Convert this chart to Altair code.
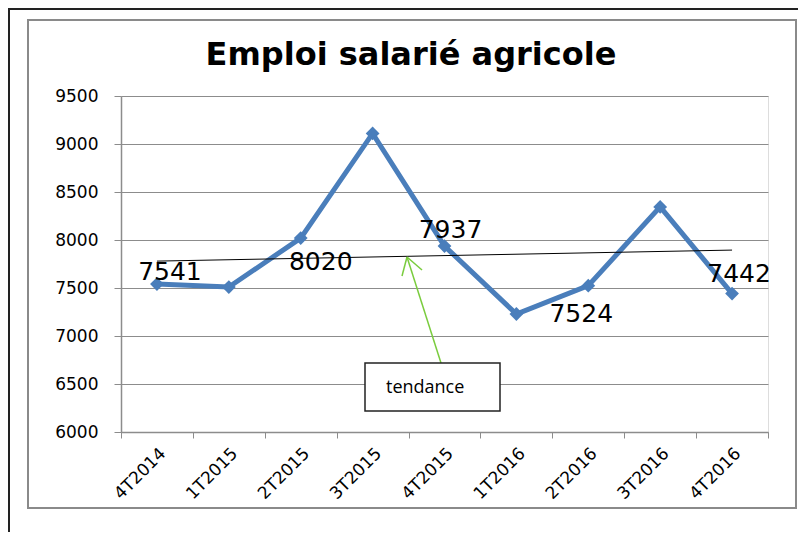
import altair as alt
import pandas as pd

# ---- data ----
categories = ["4T2014", "1T2015", "2T2015", "3T2015", "4T2015",
              "1T2016", "2T2016", "3T2016", "4T2016"]
values = [7541, 7510, 8020, 9110, 7937, 7229, 7524, 8345, 7442]
trend_categories = ["4T2014", "4T2016"]
trend_values = [7780, 7895]
labelled_categories = ["4T2014", "2T2015", "4T2015", "2T2016", "4T2016"]
y_ticks = [6000, 6500, 7000, 7500, 8000, 8500, 9000, 9500]
chart_title = "Emploi salarié agricole"
note_text = "tendance"

df = pd.DataFrame({"cat": categories, "value": values})
df_trend = pd.DataFrame({"cat": trend_categories, "value": trend_values})
one = pd.DataFrame({"k": [0]})

W, H = 647, 336
BLUE = "#4a7ebb"
GRID = "#8c8c8c"
GREEN = "#7acc3e"

x_enc = alt.X(
    "cat:N", sort=categories,
    scale=alt.Scale(domain=categories, paddingInner=0, paddingOuter=0),
    axis=alt.Axis(title=None, labelAngle=-45, labelFont="DejaVu Sans",
                  labelFontSize=17, labelColor="black", tickBand="extent",
                  tickSize=6, tickColor=GRID, domainColor=GRID,
                  domainWidth=1.5, labelPadding=7, grid=False),
)
y_enc = alt.Y(
    "value:Q",
    scale=alt.Scale(domain=[6000, 9500], nice=False, zero=False),
    axis=alt.Axis(title=None, values=y_ticks, format="d", grid=True,
                  gridColor=GRID, gridWidth=1.2, labelFont="DejaVu Sans",
                  labelFontSize=17, labelColor="black", tickSize=7,
                  tickColor=GRID, domainColor=GRID, domainWidth=1.5,
                  labelPadding=16),
)

# frames (chart border and plot frame)
outer = alt.Chart(one).mark_rect(fill=None, stroke="#222222", strokeWidth=2).encode(
    x=alt.value(-112), x2=alt.value(720), y=alt.value(-87), y2=alt.value(500))
inner = alt.Chart(one).mark_rect(fill=None, stroke="#8a8a8a", strokeWidth=2).encode(
    x=alt.value(-93), x2=alt.value(675), y=alt.value(-76), y2=alt.value(412))

title_mark = alt.Chart(pd.DataFrame({"t": [chart_title]})).mark_text(
    font="DejaVu Sans", fontSize=32, fontWeight="bold", color="black",
    align="center", baseline="alphabetic").encode(
    text="t:N", x=alt.value(290), y=alt.value(-31))

line = alt.Chart(df).mark_line(color=BLUE, strokeWidth=5).encode(x=x_enc, y=y_enc)
points = alt.Chart(df).mark_point(shape="diamond", filled=True, size=190,
                                  color=BLUE, opacity=1).encode(
    x=alt.X("cat:N", sort=categories), y="value:Q")
trend = alt.Chart(df_trend).mark_line(color="black", strokeWidth=1).encode(
    x=alt.X("cat:N", sort=categories), y="value:Q")

label_offsets = {"4T2014": (13, -12), "2T2015": (20, 24), "4T2015": (6, -16),
                 "2T2016": (-7, 28), "4T2016": (7, -20)}
label_layers = []
for c in labelled_categories:
    dx, dy = label_offsets[c]
    label_layers.append(
        alt.Chart(df).transform_filter(alt.datum.cat == c)
        .mark_text(font="DejaVu Sans", fontSize=25, color="black",
                   dx=dx, dy=dy, align="center", baseline="middle")
        .encode(x=alt.X("cat:N", sort=categories), y="value:Q",
                text=alt.Text("value:Q", format="d"))
    )

# annotation: box + arrow
box = alt.Chart(one).mark_rect(fill="white", stroke="#222222", strokeWidth=1.5).encode(
    x=alt.value(244), x2=alt.value(379), y=alt.value(267), y2=alt.value(315))
box_text = alt.Chart(pd.DataFrame({"t": [note_text]})).mark_text(
    font="Open Sans", fontSize=18, color="black", align="left",
    baseline="middle").encode(text="t:N", x=alt.value(265), y=alt.value(292))
shaft = alt.Chart(one).mark_rule(color=GREEN, strokeWidth=1.5).encode(
    x=alt.value(320), y=alt.value(267), x2=alt.value(286), y2=alt.value(161))
head1 = alt.Chart(one).mark_rule(color=GREEN, strokeWidth=1.5).encode(
    x=alt.value(286), y=alt.value(161), x2=alt.value(281), y2=alt.value(180))
head2 = alt.Chart(one).mark_rule(color=GREEN, strokeWidth=1.5).encode(
    x=alt.value(286), y=alt.value(161), x2=alt.value(301), y2=alt.value(174))

chart = alt.layer(
    outer, inner, title_mark, line, trend, points, *label_layers,
    shaft, head1, head2, box, box_text,
).properties(
    width=W, height=H,
    autosize=alt.AutoSizeParams(type="none"),
    padding={"left": 113, "top": 88, "right": 30, "bottom": 100},
).configure_view(strokeWidth=0).configure(background="white")

chart.save("out.html", embed_options={"renderer": "svg", "actions": False})
